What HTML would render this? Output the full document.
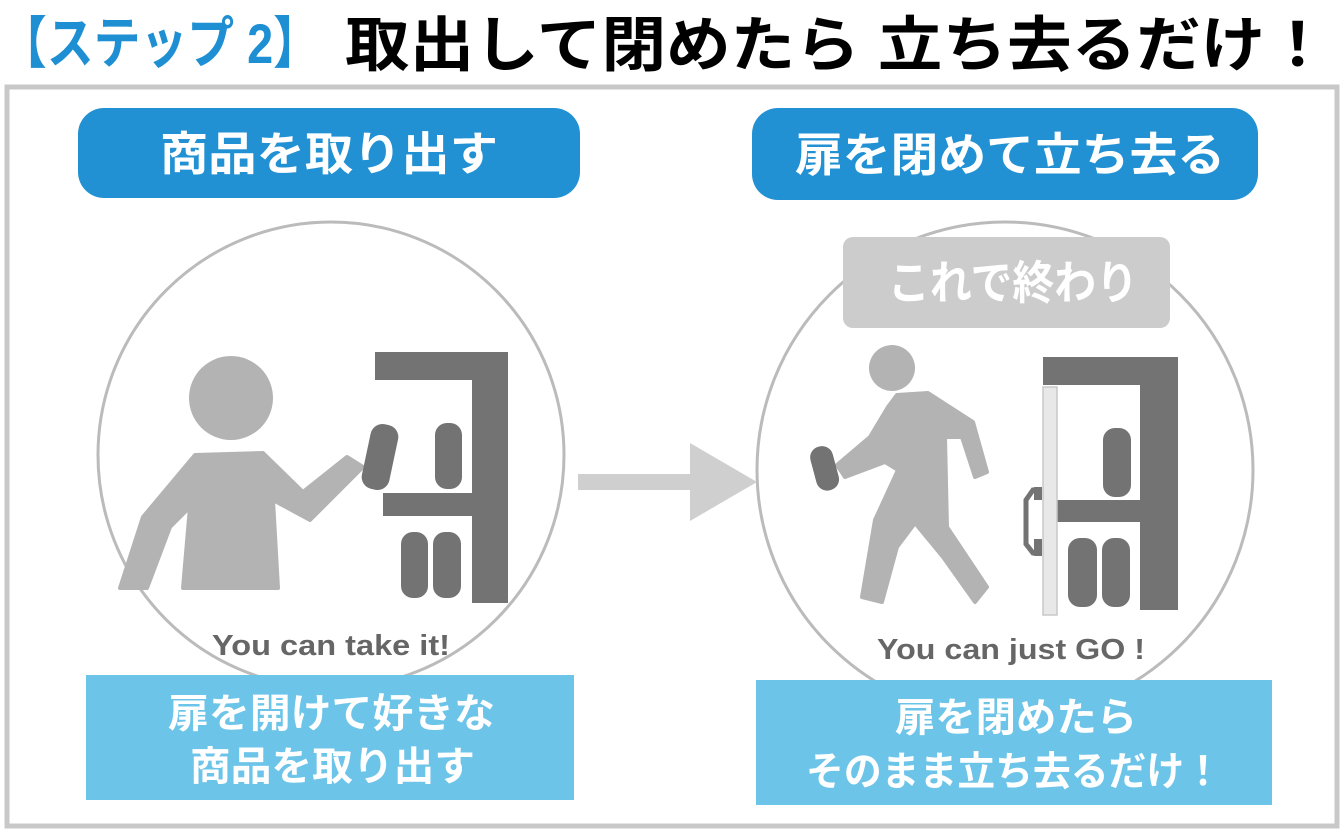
<!DOCTYPE html>
<html><head><meta charset="utf-8"><style>
html,body{margin:0;padding:0;background:#fff;}
svg{display:block;}
text{font-family:"Liberation Sans","Noto Sans CJK JP",sans-serif;font-weight:bold;}
</style></head><body>
<svg width="1344" height="833" viewBox="0 0 1344 833" xmlns="http://www.w3.org/2000/svg">
<rect width="1344" height="833" fill="#fff"/>
<text x="0" y="63" font-size="56" fill="#1e8fd2" textLength="320" lengthAdjust="spacingAndGlyphs">【ステップ 2】</text>
<text x="345" y="66" font-size="60" fill="#000" textLength="985" lengthAdjust="spacingAndGlyphs">取出して閉めたら 立ち去るだけ！</text>
<rect x="7" y="87" width="1330" height="739" fill="none" stroke="#c8c8c8" stroke-width="5"/>

<rect x="78" y="108" width="502" height="90" rx="26" fill="#2191d3"/>
<text x="160" y="170" font-size="46" fill="#fff" textLength="338" lengthAdjust="spacingAndGlyphs">商品を取り出す</text>
<rect x="752" y="108" width="506" height="92" rx="26" fill="#2191d3"/>
<text x="795" y="171" font-size="46" fill="#fff" textLength="430" lengthAdjust="spacingAndGlyphs">扉を閉めて立ち去る</text>

<circle cx="331" cy="455" r="233" fill="none" stroke="#bbb" stroke-width="3"/>
<circle cx="1005" cy="470" r="248" fill="none" stroke="#bbb" stroke-width="3"/>

<rect x="578" y="474" width="114" height="16" fill="#cfcfcf"/>
<polygon points="690,443 757,482 690,521" fill="#cfcfcf"/>

<circle cx="231" cy="398" r="42" fill="#b3b3b3"/>
<polygon points="195,455 263,453 303,492 347,457 363,467 310,520 273,500 278,588 183,588 190,507 170,527 147,588 120,588 143,517" fill="#b3b3b3" stroke="#b3b3b3" stroke-width="4" stroke-linejoin="round"/>
<rect x="366" y="424" width="28" height="66" rx="12" fill="#737373" transform="rotate(12 380 457)"/>
<rect x="375" y="352" width="133" height="28" fill="#737373"/>
<rect x="472" y="352" width="36" height="251" fill="#737373"/>
<rect x="383" y="493" width="90" height="23" fill="#737373"/>
<rect x="435" y="423" width="27" height="66" rx="12" fill="#737373"/>
<rect x="401" y="532" width="27" height="66" rx="12" fill="#737373"/>
<rect x="433" y="532" width="28" height="66" rx="12" fill="#737373"/>

<rect x="843" y="237" width="327" height="91" rx="10" fill="#cccccc"/>
<text x="888" y="299" font-size="46" fill="#fff" textLength="250" lengthAdjust="spacingAndGlyphs">これで終わり</text>
<circle cx="892" cy="368" r="23" fill="#b3b3b3"/>
<polygon points="897,395 928,393 973,422 987,472 975,477 962,437 945,437 947,527 987,587 975,602 943,557 915,523 897,547 882,602 862,597 875,520 898,470 885,462 845,477 837,465 870,437 888,407" fill="#b3b3b3" stroke="#b3b3b3" stroke-width="4" stroke-linejoin="round"/>
<rect x="813" y="446" width="23" height="45" rx="11" fill="#737373" transform="rotate(-15 824 468)"/>
<rect x="1043" y="357" width="135" height="28" fill="#737373"/>
<rect x="1140" y="385" width="38" height="225" fill="#737373"/>
<rect x="1057" y="500" width="83" height="22" fill="#737373"/>
<rect x="1103" y="428" width="28" height="69" rx="12" fill="#737373"/>
<rect x="1068" y="538" width="29" height="69" rx="12" fill="#737373"/>
<rect x="1102" y="538" width="28" height="69" rx="12" fill="#737373"/>
<rect x="1043" y="387" width="14" height="228" fill="#e8e8e8" stroke="#c8c8c8" stroke-width="1.5"/>
<path d="M1042 490 L1033 490 L1026 500 L1026 544 L1033 553 L1042 553" fill="none" stroke="#737373" stroke-width="5"/>
<rect x="1034" y="487" width="8" height="13" fill="#737373"/>
<rect x="1034" y="539" width="8" height="17" fill="#737373"/>

<text x="212" y="655" font-size="29" fill="#666" textLength="238" lengthAdjust="spacingAndGlyphs">You can take it!</text>
<text x="877" y="659" font-size="29" fill="#666" textLength="268" lengthAdjust="spacingAndGlyphs">You can just GO !</text>

<rect x="86" y="675" width="488" height="125" fill="#6dc4e9"/>
<text x="168" y="727" font-size="40" fill="#fff" textLength="327" lengthAdjust="spacingAndGlyphs">扉を開けて好きな</text>
<text x="190" y="780" font-size="40" fill="#fff" textLength="285" lengthAdjust="spacingAndGlyphs">商品を取り出す</text>
<rect x="756" y="680" width="516" height="125" fill="#6dc4e9"/>
<text x="895" y="731" font-size="40" fill="#fff" textLength="242" lengthAdjust="spacingAndGlyphs">扉を閉めたら</text>
<text x="806" y="785" font-size="40" fill="#fff" textLength="416" lengthAdjust="spacingAndGlyphs">そのまま立ち去るだけ！</text>
</svg>
</body></html>
